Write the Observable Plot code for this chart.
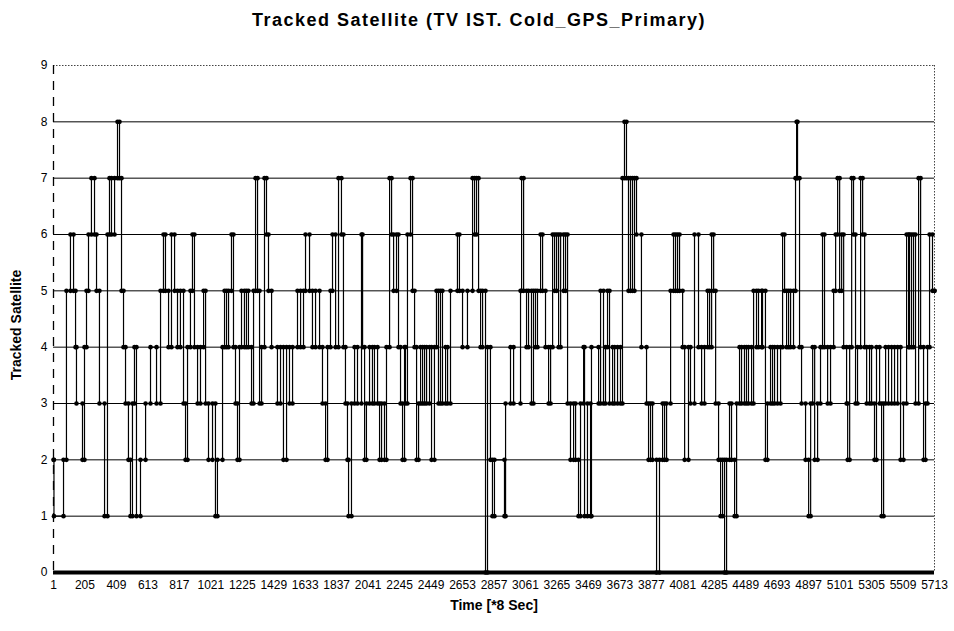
<!DOCTYPE html>
<html><head><meta charset="utf-8">
<script src="https://cdn.jsdelivr.net/npm/d3@7"></script>
<script src="https://cdn.jsdelivr.net/npm/@observablehq/plot@0.6"></script>
<style>
body{margin:0;background:#fff;font-family:"Liberation Sans",Arial,sans-serif;}
#title{height:36px;line-height:40px;text-align:center;font-weight:bold;font-size:18px;letter-spacing:1.5px;color:#000;padding-left:4px;}
#chart svg{display:block;}
</style></head><body>
<div id="title">Tracked Satellite (TV IST. Cold_GPS_Primary)</div>
<div id="chart"></div>
<script>
const times = [1,4,66,85,111,131,144,150,189,202,215,228,247,267,280,299,332,351,364,377,397,416,429,442,455,468,487,500,513,526,539,565,598,630,669,695,714,727,747,766,786,805,824,844,857,870,889,902,915,935,954,974,987,1006,1032,1051,1064,1097,1110,1123,
1136,1155,1168,1181,1194,1207,1220,1239,1252,1265,1285,1298,1311,1324,1337,1350,1369,1382,1395,1415,1453,1473,1492,1512,1531,1551,1583,1603,1622,1635,1661,1680,1700,1726,1745,1765,1778,1797,1810,1830,1849,1868,1881,1894,1907,1914,1933,1953,1972,1998,2005,2018,2030,2050,2069,2082,2102,2115,2128,2147,2160,2180,2193,2206,2225,2238,2251,2264,2277,
2283,2296,2316,2329,2342,2355,2368,2381,2394,2407,2420,2439,2452,2471,2484,2497,2510,2523,2543,2556,2575,2620,2633,2653,2685,2718,2731,2744,2757,2770,2783,2802,2815,2834,2847,2860,2925,2932,2964,2984,3029,3036,3049,3068,3081,3100,3113,3126,3139,3159,3172,3191,3211,3224,3237,3250,3263,3276,3289,3308,3321,3334,3353,3373,3386,3405,3418,3438,
3444,3463,3483,3489,3535,3548,3567,3580,3593,3606,3626,3639,3658,3677,3690,3703,3716,3729,3742,3755,3768,3781,3813,3846,3859,3872,3885,3911,3930,3950,3963,3976,4002,4021,4034,4047,4060,4080,4093,4118,4131,4157,4183,4203,4222,4242,4255,4268,4281,4294,4313,4326,4339,4352,4365,4384,4397,4417,4430,4449,4462,4481,4494,4507,4527,4540,4559,4572,4592,
4598,4617,4630,4650,4663,4676,4695,4715,4728,4741,4754,4767,4780,4799,4812,4819,4825,4838,4851,4877,4897,4910,4923,4936,4955,4974,4987,5000,5020,5039,5059,5072,5085,5098,5111,5124,5143,5150,5163,5176,5188,5201,5214,5234,5247,5260,5273,5292,5305,5324,5337,5357,5370,5383,5396,5415,5435,5454,5474,5493,5512,5532,5545,5551,5564,5577,5590,5610,5623,5642,5655,5668,5681,5700,5713];

const sats = [2,1,2,5,6,5,4,3,2,4,5,6,7,6,5,3,1,6,7,6,7,8,7,5,4,3,2,1,3,4,1,2,3,4,3,5,6,5,4,6,5,4,5,3,2,4,5,6,4,3,4,5,3,2,3,1,2,4,5,4,
5,6,4,3,2,4,5,4,5,4,3,5,7,5,3,4,7,6,5,4,3,4,2,4,3,4,5,4,5,6,5,4,5,4,3,2,4,5,6,4,7,6,4,3,2,1,3,4,3,6,4,2,3,4,3,4,3,2,3,2,4,7,6,5,6,4,3,2,4,
3,6,7,5,4,2,3,4,3,4,3,4,2,4,5,3,5,3,4,3,5,6,5,4,5,7,6,7,5,4,5,0,4,2,1,2,1,3,4,3,5,7,5,4,5,3,5,4,5,6,5,4,3,4,6,5,6,4,6,5,6,3,2,3,2,1,3,4,
1,3,1,4,3,5,3,4,5,3,4,3,4,3,7,8,7,5,7,5,7,6,4,3,2,3,2,0,2,3,2,3,5,6,5,6,5,4,2,4,3,6,4,3,4,5,4,6,5,3,2,1,2,0,2,3,2,1,3,4,3,4,3,4,3,5,4,5,4,
5,2,3,4,3,4,3,4,6,5,4,5,4,5,7,8,7,4,3,2,1,3,4,2,3,4,6,4,3,4,5,6,7,5,6,4,3,2,4,7,6,3,4,7,6,4,3,4,3,2,4,3,1,3,4,3,4,3,4,2,3,6,4,6,4,6,3,7,4,2,3,4,6,5,5];

const xTicks = [1,205,409,613,817,1021,1225,1429,1633,1837,2041,2245,2449,2653,2857,3061,3265,3469,3673,3877,4081,4285,4489,4693,4897,5101,5305,5509,5713];
const yTicks = [0,1,2,3,4,5,6,7,8,9];
const xLabel = "Time [*8 Sec]";
const yLabel = "Tracked Satellite";

const n = Math.min(times.length, sats.length);
const data = d3.range(n).map(i => ({t: times[i], v: sats[i]}));
const corners = [];
data.forEach((d, i) => { if (i > 0) corners.push({t: d.t, v: data[i-1].v}); corners.push(d); });

const chart = Plot.plot({
  width: 954, height: 595,
  marginLeft: 53, marginRight: 20, marginTop: 29, marginBottom: 59,
  style: {fontFamily: "Liberation Sans, Arial, sans-serif", fontSize: "12px", background: "#fff", color: "#000", overflow: "visible"},
  x: {domain: [1, 5713], ticks: xTicks, tickFormat: d => String(d), label: null, tickSize: 0, tickPadding: 8},
  y: {domain: [0, 9], ticks: yTicks, label: null, tickSize: 0, tickPadding: 6},
  marks: [
    Plot.ruleY(yTicks.filter(v => v > 0 && v < 9), {stroke: "#000", strokeWidth: 1}),
    Plot.ruleY([9], {stroke: "#444", strokeDasharray: "1.5,1.5"}),
    Plot.ruleX([5713], {stroke: "#444", strokeDasharray: "1.5,1.5"}),
    Plot.ruleX([1], {stroke: "#000", strokeDasharray: "9,7", strokeWidth: 1.3}),
    Plot.line(data, {x: "t", y: "v", curve: "step-after", stroke: "#000", strokeWidth: 1.2}),
    Plot.dot(corners, {x: "t", y: "v", r: 2.3, fill: "#000", stroke: "none"}),
    Plot.ruleY([0], {stroke: "#000", strokeWidth: 4}),
    Plot.text([xLabel], {text: d => d, frameAnchor: "bottom", dy: 33, lineAnchor: "middle", fontWeight: "bold", fontSize: 14}),
    Plot.text([yLabel], {text: d => d, frameAnchor: "left", dx: -37, dy: 6, textAnchor: "middle", lineAnchor: "middle", rotate: -90, fontWeight: "bold", fontSize: 14})
  ]
});
document.getElementById("chart").appendChild(chart);
</script>
</body></html>
